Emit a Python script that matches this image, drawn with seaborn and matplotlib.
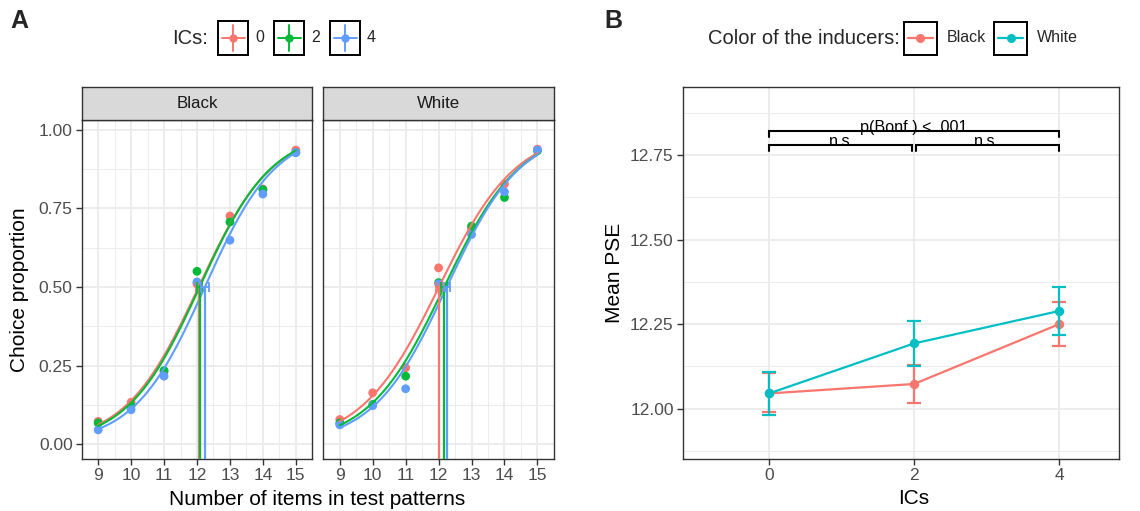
import numpy as np
import pandas as pd
import matplotlib
matplotlib.use("Agg")
import matplotlib.pyplot as plt
import seaborn as sns
from matplotlib.patches import Rectangle

# ---------------- data ----------------
n_items = [9, 10, 11, 12, 13, 14, 15]
ics_levels = [0, 2, 4]
inducer_colors = ["Black", "White"]

# Panel A: observed choice proportions (facet x ICs)
prop_black_ic0 = [0.072, 0.133, 0.230, 0.510, 0.726, 0.812, 0.936]
prop_black_ic2 = [0.067, 0.122, 0.234, 0.550, 0.707, 0.810, 0.928]
prop_black_ic4 = [0.045, 0.109, 0.216, 0.516, 0.649, 0.796, 0.928]
prop_white_ic0 = [0.078, 0.163, 0.243, 0.561, 0.686, 0.828, 0.939]
prop_white_ic2 = [0.067, 0.126, 0.216, 0.514, 0.694, 0.785, 0.934]
prop_white_ic4 = [0.061, 0.122, 0.176, 0.510, 0.667, 0.803, 0.936]

# Panel A: fitted logistic psychometric functions (PSE, spread) and PSE CI half-width
pse_black = [12.05, 12.08, 12.24]
spread_black = [1.12, 1.10, 1.08]
pse_ci_black = [0.07, 0.07, 0.12]
pse_white = [12.01, 12.17, 12.25]
spread_white = [1.18, 1.15, 1.12]
pse_ci_white = [0.08, 0.10, 0.10]

# Panel B: mean PSE with CI
mean_pse_black = [12.045, 12.073, 12.250]
ci_low_black = [11.991, 12.016, 12.185]
ci_high_black = [12.105, 12.130, 12.315]
mean_pse_white = [12.045, 12.193, 12.289]
ci_low_white = [11.981, 12.127, 12.217]
ci_high_white = [12.107, 12.260, 12.360]

# Panel B: pairwise comparison annotations
cmp_from = [0, 0, 2]
cmp_to = [4, 2, 4]
cmp_level = [12.822, 12.780, 12.780]
cmp_label = ["p(Bonf.) < .001", "n.s.", "n.s."]

# ---------------- style ----------------
sns.set_style("white")
plt.rcParams["font.family"] = ["Liberation Sans", "DejaVu Sans"]

pal3 = ["#F8766D", "#00BA38", "#619CFF"]
pal2 = ["#F8766D", "#00BFC4"]
GRID = "#EBEBEB"
BORDER = "#333333"
TICKTXT = "#4D4D4D"
TICK_FS = 12.5
TITLE_FS = 15
LEG_TITLE_FS = 14.5
LEG_FS = 11.5

W, H = 1140, 511
fig = plt.figure(figsize=(W / 100, H / 100), dpi=100)


def fx(px):
    return px / W


def fy(py):
    return 1 - py / H


def style_axes(ax):
    ax.set_facecolor("white")
    for s in ax.spines.values():
        s.set_color(BORDER)
        s.set_linewidth(1.0)
        s.set_visible(True)
    ax.grid(which="major", color=GRID, lw=1.3, zorder=0)
    ax.grid(which="minor", color=GRID, lw=0.65, zorder=0)
    ax.set_axisbelow(True)
    ax.tick_params(which="major", labelsize=TICK_FS, labelcolor=TICKTXT, color=BORDER,
                   length=4, width=1.0, pad=2.5, direction="out",
                   bottom=True, left=True)
    ax.tick_params(which="minor", length=0)
    ax.set_xlabel("")
    ax.set_ylabel("")


# ---------------- panel A ----------------
propsA = {"Black": [prop_black_ic0, prop_black_ic2, prop_black_ic4],
          "White": [prop_white_ic0, prop_white_ic2, prop_white_ic4]}
pseA = {"Black": pse_black, "White": pse_white}
spreadA = {"Black": spread_black, "White": spread_white}
ciA = {"Black": pse_ci_black, "White": pse_ci_white}

A_bottom, A_top = 459.3, 120.0
facet_left = {"Black": 81.7, "White": 323.3}
facet_w = 230.6
ylimA = (-0.0487, 1.0318)
xlimA = (8.715, 15.285)

for k, col in enumerate(inducer_colors):
    left = facet_left[col]
    ax = fig.add_axes([fx(left), fy(A_bottom), fx(facet_w), (A_bottom - A_top) / H])
    rows = []
    for i, ic in enumerate(ics_levels):
        for n, p in zip(n_items, propsA[col][i]):
            rows.append({"n": n, "prop": p, "ICs": str(ic)})
    dpts = pd.DataFrame(rows)
    crows = []
    grid = np.linspace(n_items[0], n_items[-1], 200)
    for i, ic in enumerate(ics_levels):
        yv = 1.0 / (1.0 + np.exp(-(grid - pseA[col][i]) / spreadA[col][i]))
        for xv, yy in zip(grid, yv):
            crows.append({"n": xv, "prop": yy, "ICs": str(ic)})
    dcur = pd.DataFrame(crows)

    sns.scatterplot(data=dpts, x="n", y="prop", hue="ICs", palette=pal3, s=40,
                    linewidth=0, legend=False, ax=ax, zorder=3)
    sns.lineplot(data=dcur, x="n", y="prop", hue="ICs", palette=pal3, lw=1.5,
                 estimator=None, sort=False, legend=False, ax=ax, zorder=4)
    for i, ic in enumerate(ics_levels):
        ax.vlines(pseA[col][i], ylimA[0], 0.5, colors=pal3[i], lw=1.6, zorder=5)
        ax.errorbar([pseA[col][i]], [0.5], xerr=[ciA[col][i]], fmt="none",
                    ecolor=pal3[i], elinewidth=1.3, capsize=3.5, capthick=1.3, zorder=5)

    ax.set_xlim(*xlimA)
    ax.set_ylim(*ylimA)
    style_axes(ax)
    ax.set_xticks(n_items)
    ax.set_xticks(np.arange(8.5, 15.6, 1.0), minor=True)
    ax.set_yticks([0, 0.25, 0.5, 0.75, 1.0])
    ax.set_yticklabels(["0.00", "0.25", "0.50", "0.75", "1.00"])
    ax.set_yticks([0.125, 0.375, 0.625, 0.875], minor=True)
    if k == 1:
        ax.tick_params(which="major", left=False, labelleft=False)

    # strip
    sax = fig.add_axes([fx(left), fy(A_top), fx(facet_w), (A_top - 86.7) / H])
    sax.set_facecolor("#D9D9D9")
    sax.set_xticks([])
    sax.set_yticks([])
    for s in sax.spines.values():
        s.set_color(BORDER)
        s.set_linewidth(1.0)
        s.set_visible(True)
    sax.text(0.5, 0.5, col, ha="center", va="center", fontsize=12.2, color="#1A1A1A",
             transform=sax.transAxes)

fig.text(fx(20), fy(289.6), "Choice proportion", rotation=90, ha="center", va="center",
         fontsize=TITLE_FS, color="black")
fig.text(fx(316.7), fy(499), "Number of items in test patterns", ha="center",
         va="center", fontsize=TITLE_FS, color="black")

# ---------------- panel B ----------------
axB = fig.add_axes([fx(682.7), fy(459.0), fx(1119.3 - 682.7), (459.0 - 87.3) / H])
dB = pd.DataFrame({
    "ICs": ics_levels * 2,
    "PSE": mean_pse_black + mean_pse_white,
    "Color": ["Black"] * 3 + ["White"] * 3,
})
lows = {"Black": ci_low_black, "White": ci_low_white}
highs = {"Black": ci_high_black, "White": ci_high_white}
means = {"Black": mean_pse_black, "White": mean_pse_white}
for j, col in enumerate(inducer_colors):
    sub = dB[dB["Color"] == col]
    sns.lineplot(data=sub, x="ICs", y="PSE", color=pal2[j], lw=1.6, marker="o",
                 markersize=6.8, markeredgewidth=0, legend=False, ax=axB, zorder=3 + j)
    m = np.array(means[col])
    axB.errorbar(ics_levels, m, yerr=[m - np.array(lows[col]), np.array(highs[col]) - m],
                 fmt="none", ecolor=pal2[j], elinewidth=1.6, capsize=5, capthick=1.6,
                 zorder=3 + j)

tip = 0.018
for a, b, lvl, lab in zip(cmp_from, cmp_to, cmp_level, cmp_label):
    aa, bb = a, b
    if lab == "n.s.":
        aa = a + (0.023 if a == 2 else 0)
        bb = b - (0.023 if b == 2 else 0)
    axB.plot([aa, aa, bb, bb], [lvl - tip, lvl, lvl, lvl - tip], color="black",
             lw=1.5, solid_joinstyle="miter", zorder=6)
    axB.text((a + b) / 2, lvl - 0.004, lab, ha="center", va="baseline", fontsize=11.6,
             color="black", zorder=7)

axB.set_xlim(-1.19, 4.83)
axB.set_ylim(11.851, 12.951)
style_axes(axB)
axB.set_xticks(ics_levels)
axB.set_xticklabels([str(v) for v in ics_levels])
axB.set_yticks([12.0, 12.25, 12.5, 12.75])
axB.set_yticklabels(["12.00", "12.25", "12.50", "12.75"])
axB.set_yticks([11.875, 12.125, 12.375, 12.625, 12.875], minor=True)
axB.grid(which="minor", axis="x", visible=False)

fig.text(fx(615), fy(273), "Mean PSE", rotation=90, ha="center", va="center",
         fontsize=TITLE_FS, color="black")
fig.text(fx(914), fy(498), "ICs", ha="center", va="center", fontsize=TITLE_FS,
         color="black")

# ---------------- legends & panel letters ----------------
ov = fig.add_axes([0, 0, 1, 1])
ov.set_xlim(0, W)
ov.set_ylim(H, 0)
ov.axis("off")

fig.text(fx(10), fy(21), "A", fontsize=18, fontweight="bold", ha="left", va="center")
fig.text(fx(604), fy(21), "B", fontsize=18, fontweight="bold", ha="left", va="center")

# legend A
ov.text(208, 38, "ICs:", ha="right", va="center", fontsize=LEG_TITLE_FS)
boxA = [218.3, 274.0, 330.0]
for i, ic in enumerate(ics_levels):
    x0 = boxA[i]
    ov.add_patch(Rectangle((x0, 21), 30, 34, fill=False, ec="black", lw=1.4, zorder=2))
    cx, cy = x0 + 15, 38
    ov.plot([x0 + 3.5, x0 + 26.5], [cy, cy], color=pal3[i], lw=1.4, zorder=3)
    ov.plot([cx, cx], [25, 51.5], color=pal3[i], lw=1.4, zorder=3)
    ov.plot([cx], [cy], "o", color=pal3[i], ms=6, mew=0, zorder=4)
    ov.text(x0 + 37, cy, str(ic), ha="left", va="center", fontsize=LEG_FS)

# legend B
ov.text(899.5, 38, "Color of the inducers:", ha="right", va="center", fontsize=LEG_TITLE_FS)
boxB = [904.0, 994.3]
for j, col in enumerate(inducer_colors):
    x0 = boxB[j]
    ov.add_patch(Rectangle((x0, 21.7), 32.7, 33.3, fill=False, ec="black", lw=1.4, zorder=2))
    cx, cy = x0 + 16.3, 38
    ov.plot([x0 + 4, x0 + 28.7], [cy, cy], color=pal2[j], lw=1.6, zorder=3)
    ov.plot([cx], [cy], "o", color=pal2[j], ms=6.5, mew=0, zorder=4)
    ov.text(x0 + 42.5, cy, col, ha="left", va="center", fontsize=LEG_FS)

fig.savefig("out.png", dpi=100)
